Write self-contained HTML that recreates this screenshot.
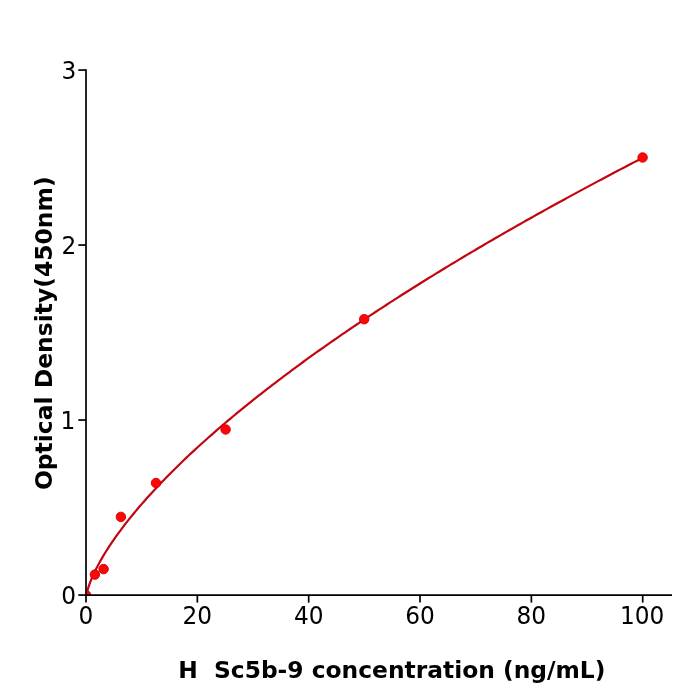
<!DOCTYPE html>
<html><head><meta charset="utf-8"><title>H Sc5b-9 ELISA standard curve</title>
<style>
html,body{margin:0;padding:0;background:#fff;}
svg{display:block;}
text{font-family:"DejaVu Sans","Liberation Sans",sans-serif;fill:#000;}
.t{font-size:23.6px;}
.b{font-size:23.37px;font-weight:bold;}
</style></head><body>
<svg width="700" height="700" viewBox="0 0 700 700">
<rect width="700" height="700" fill="#fff"/>
<defs><clipPath id="ax"><rect x="86" y="70" width="585.2" height="525"/></clipPath></defs>
<g clip-path="url(#ax)">
<polyline points="86.00,598.20 86.28,595.73 86.56,594.22 86.84,592.93 87.11,591.78 87.39,590.71 87.67,589.71 87.95,588.76 88.23,587.86 88.51,586.98 88.78,586.14 89.06,585.32 89.34,584.53 89.62,583.75 89.90,583.00 90.18,582.26 90.45,581.53 90.73,580.82 91.01,580.13 91.29,579.44 91.57,578.77 91.85,578.11 92.12,577.46 92.40,576.81 92.68,576.18 92.96,575.55 93.24,574.93 93.52,574.32 93.79,573.72 94.07,573.12 94.35,572.53 94.63,571.94 94.91,571.36 95.19,570.79 95.46,570.22 95.74,569.66 96.02,569.10 96.30,568.55 96.58,568.00 96.86,567.46 97.13,566.92 99.92,561.74 102.70,556.89 105.48,552.28 108.27,547.88 111.05,543.66 113.84,539.58 116.62,535.63 119.40,531.80 122.19,528.06 124.97,524.42 127.75,520.86 130.54,517.38 133.32,513.97 136.10,510.62 138.89,507.33 141.67,504.10 144.45,500.92 147.24,497.79 150.02,494.70 152.80,491.66 155.59,488.66 158.37,485.70 161.15,482.78 163.94,479.89 166.72,477.04 169.50,474.22 172.29,471.43 175.07,468.67 177.86,465.94 180.64,463.23 183.42,460.56 186.21,457.90 188.99,455.28 191.77,452.67 194.56,450.09 197.34,447.53 200.12,444.99 202.91,442.48 205.69,439.98 208.47,437.50 211.26,435.05 214.04,432.61 216.82,430.18 219.61,427.78 222.39,425.39 225.18,423.02 227.96,420.66 230.74,418.33 233.53,416.00 236.31,413.69 239.09,411.40 241.88,409.12 244.66,406.85 247.44,404.60 250.23,402.36 253.01,400.13 255.79,397.92 258.58,395.72 261.36,393.53 264.14,391.35 266.93,389.18 269.71,387.03 272.49,384.89 275.28,382.76 278.06,380.64 280.85,378.53 283.63,376.43 286.41,374.34 289.20,372.26 291.98,370.19 294.76,368.13 297.55,366.08 300.33,364.04 303.11,362.01 305.90,359.98 308.68,357.97 311.46,355.96 314.25,353.97 317.03,351.98 319.81,350.00 322.60,348.03 325.38,346.07 328.16,344.11 330.95,342.17 333.73,340.23 336.51,338.30 339.30,336.37 342.08,334.46 344.87,332.55 347.65,330.65 350.43,328.75 353.22,326.87 356.00,324.99 358.78,323.11 361.57,321.25 364.35,319.39 367.13,317.54 369.92,315.69 372.70,313.85 375.48,312.02 378.27,310.19 381.05,308.37 383.83,306.55 386.62,304.74 389.40,302.94 392.19,301.14 394.97,299.35 397.75,297.57 400.54,295.79 403.32,294.02 406.10,292.25 408.89,290.48 411.67,288.73 414.45,286.98 417.24,285.23 420.02,283.49 422.80,281.75 425.59,280.02 428.37,278.30 431.15,276.58 433.94,274.86 436.72,273.15 439.50,271.45 442.29,269.75 445.07,268.05 447.86,266.36 450.64,264.68 453.42,262.99 456.21,261.32 458.99,259.65 461.77,257.98 464.56,256.32 467.34,254.66 470.12,253.00 472.91,251.35 475.69,249.71 478.47,248.07 481.26,246.43 484.04,244.80 486.82,243.17 489.61,241.55 492.39,239.93 495.17,238.31 497.96,236.70 500.74,235.10 503.53,233.49 506.31,231.89 509.09,230.30 511.88,228.71 514.66,227.12 517.44,225.53 520.23,223.95 523.01,222.38 525.79,220.81 528.58,219.24 531.36,217.67 534.14,216.11 536.93,214.55 539.71,213.00 542.49,211.45 545.28,209.90 548.06,208.36 550.84,206.82 553.63,205.28 556.41,203.75 559.19,202.22 561.98,200.69 564.76,199.17 567.55,197.65 570.33,196.13 573.11,194.62 575.90,193.11 578.68,191.60 581.46,190.10 584.25,188.60 587.03,187.10 589.81,185.61 592.60,184.12 595.38,182.63 598.16,181.15 600.95,179.67 603.73,178.19 606.51,176.71 609.30,175.24 612.08,173.77 614.87,172.30 617.65,170.84 620.43,169.38 623.22,167.92 626.00,166.47 628.78,165.02 631.57,163.57 634.35,162.12 637.13,160.68 639.92,159.24 642.70,157.80" fill="none" stroke="#c2060f" stroke-width="2.2" stroke-linejoin="round"/>
<g fill="#ff0505" stroke="#cc0000" stroke-width="0.9">
<circle cx="86.0" cy="595.0" r="4.75"/>
<circle cx="94.9" cy="574.6" r="4.75"/>
<circle cx="103.6" cy="569.1" r="4.75"/>
<circle cx="120.9" cy="516.9" r="4.75"/>
<circle cx="156.0" cy="483.0" r="4.75"/>
<circle cx="225.6" cy="429.5" r="4.75"/>
<circle cx="364.2" cy="319.2" r="4.75"/>
<circle cx="642.6" cy="157.5" r="4.75"/>
</g></g>
<g stroke="#000" stroke-width="1.7" fill="none">
<path d="M86 69.2V595.9"/><path d="M85.15 595.05H672"/>
<path d="M78.3 595.05H86"/>
<path d="M78.3 420.05H86"/>
<path d="M78.3 245.05H86"/>
<path d="M78.3 70.05H86"/>
<path d="M86.00 595V602.6"/>
<path d="M197.34 595V602.6"/>
<path d="M308.68 595V602.6"/>
<path d="M420.02 595V602.6"/>
<path d="M531.36 595V602.6"/>
<path d="M642.70 595V602.6"/>
</g>
<text class="t" transform="translate(76.0 603.9) scale(0.985,1.03)" text-anchor="end">0</text>
<text class="t" transform="translate(75.2 428.9) scale(0.985,1.03)" text-anchor="end">1</text>
<text class="t" transform="translate(76.2 253.9) scale(0.985,1.03)" text-anchor="end">2</text>
<text class="t" transform="translate(76.2 78.9) scale(0.985,1.03)" text-anchor="end">3</text>
<text class="t" transform="translate(86.00 623.8) scale(0.985,1.03)" text-anchor="middle">0</text>
<text class="t" transform="translate(197.34 623.8) scale(0.985,1.03)" text-anchor="middle">20</text>
<text class="t" transform="translate(308.68 623.8) scale(0.985,1.03)" text-anchor="middle">40</text>
<text class="t" transform="translate(420.02 623.8) scale(0.985,1.03)" text-anchor="middle">60</text>
<text class="t" transform="translate(531.36 623.8) scale(0.985,1.03)" text-anchor="middle">80</text>
<text class="t" transform="translate(642.10 623.8) scale(0.985,1.03)" text-anchor="middle">100</text>
<text class="b" x="391.8" y="678.0" text-anchor="middle" xml:space="preserve">H  Sc5b-9 concentration (ng/mL)</text>
<text class="b" style="font-size:23.45px" transform="translate(51.7 333.2) rotate(-90)" text-anchor="middle">Optical Density(450nm)</text>
</svg></body></html>
